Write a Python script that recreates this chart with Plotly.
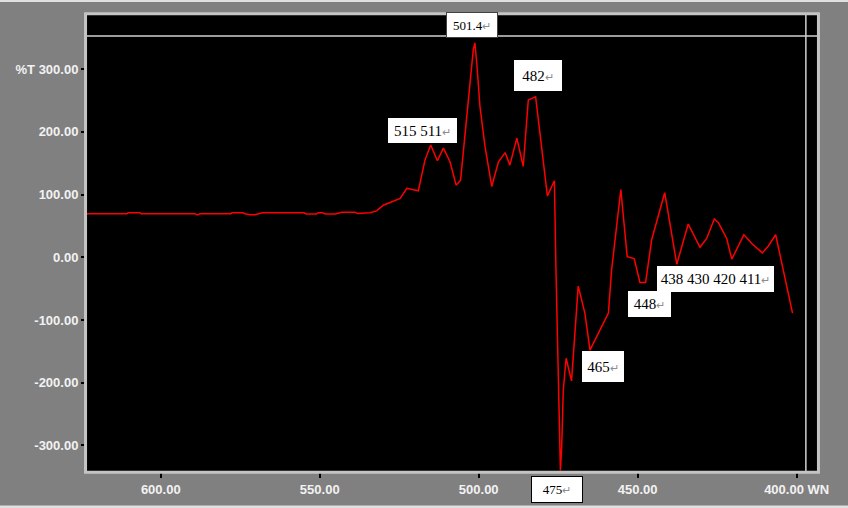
import plotly.graph_objects as go

# Wavenumber (cm-1) and %T values
wn = [623.2, 610.6, 610.3, 606.5, 606.2, 589.2, 588.6, 587.6, 577.9, 577.6, 574.1, 573.5,
      571.9, 570.3, 568.1, 554.9, 554.3, 551.1, 550.5, 549.0, 548.3, 545.2, 543.6, 543.0,
      538.9, 538.2, 534.2, 532.1, 530.0, 526.9, 524.7, 522.6, 519.0, 516.9, 515.1, 513.0,
      511.1, 509.0, 507.1, 505.7, 502.7, 501.7, 501.2, 500.6, 499.6, 498.0, 495.9, 493.8,
      491.7, 490.2, 488.0, 486.0, 484.4, 482.1, 478.4, 476.2, 475.7, 475.0, 474.3, 473.9,
      473.4, 472.5, 470.8, 468.7, 466.6, 465.0, 459.2, 458.2, 455.3, 453.3, 451.1, 449.3,
      447.5, 445.6, 441.5, 437.7, 434.1, 430.4, 428.3, 425.9, 424.6, 422.0, 420.4, 416.6,
      414.1, 410.8, 408.9, 406.6, 401.3]
trans = [69.5, 69.5, 71, 71, 69.5, 69.5, 67.5, 69.5, 69.5, 71, 71, 69.5,
         68, 68, 71, 71, 69, 69, 71, 71, 69, 69, 71, 72,
         72, 70, 71, 74, 83, 89, 94, 110, 106, 155, 179, 154,
         174, 152, 115, 123, 283, 331, 342, 309, 240, 176, 113, 152,
         167, 147, 190, 145, 251, 256, 98, 122, -20, -212, -340, -302,
         -212, -161, -197, -46, -89, -148, -89, -20, 108, 1, -2, -40,
         -40, 28, 103, -11, 53, 16, 30, 61, 55, 30, -3, 36,
         22, 7, 18, 36, -89]

x_tickvals = [600, 550, 500, 450, 400]
x_ticktext = ["600.00", "550.00", "500.00", "450.00", "400.00 WN"]
y_tickvals = [-300, -200, -100, 0, 100, 200, 300]
y_ticktext = ["-300.00", "-200.00", "-100.00", "0.00", "100.00", "200.00", "%T 300.00"]

peak_labels = ["501.4", "482", "515 511", "465", "448", "438 430 420 411", "475"]

fig = go.Figure()
fig.add_trace(go.Scatter(x=wn, y=trans, mode="lines",
                         line=dict(color="#ff0000", width=1.5), hoverinfo="skip"))

tickfont = dict(family="Liberation Sans, Arial, sans-serif", size=13, color="#f2f2f2", weight="bold")

fig.update_layout(
    width=848, height=508,
    margin=dict(l=87, r=31, t=15, b=37),
    paper_bgcolor="#808080",
    plot_bgcolor="#000000",
    showlegend=False,
    xaxis=dict(range=[623.2, 393.6], tickvals=x_tickvals, ticktext=x_ticktext,
               showgrid=False, zeroline=False, showline=False, automargin=False,
               ticks="outside", ticklen=6, tickcolor="#000000", tickwidth=1.5,
               tickfont=tickfont),
    yaxis=dict(range=[-340.8, 386.4], tickvals=y_tickvals, ticktext=y_ticktext,
               showgrid=False, zeroline=False, showline=False, automargin=False,
               ticks="outside", ticklen=5, tickcolor="#000000", tickwidth=1.5,
               tickfont=tickfont),
)

# cursor lines and plot frame
fig.add_shape(type="line", xref="paper", x0=0, x1=1, yref="y", y0=353, y1=353,
              line=dict(color="#d0d0d0", width=1.5))
fig.add_shape(type="line", xref="x", x0=397.1, x1=397.1, yref="paper", y0=0, y1=1,
              line=dict(color="#d0d0d0", width=1.5))
fig.add_shape(type="rect", xref="paper", yref="paper", x0=-0.002, x1=1.002, y0=-0.003, y1=1.003,
              line=dict(color="#c4c4c4", width=3))
# outer page border strips
fig.add_shape(type="line", xref="paper", yref="paper", x0=-0.2, x1=1.2, y0=1.032, y1=1.032,
              line=dict(color="#e0e0e0", width=3))
fig.add_shape(type="line", xref="paper", yref="paper", x0=-0.2, x1=1.2, y0=-0.079, y1=-0.079,
              line=dict(color="#e0e0e0", width=3))

arrow = "<span style='color:#8c8c8c;font-size:11px'>\u21b5</span>"
ann_specs = [
    # label, x, y, yref, width, height, font size, border
    (peak_labels[0], 502.26, 369.7, "y", 50, 24, 13, "#404040"),
    (peak_labels[1], 481.4, 290, "y", 46, 29, 15, None),
    (peak_labels[2], 517.7, 203, "y", 67, 23, 15, None),
    (peak_labels[3], 461.0, -173.8, "y", 40, 29, 15, None),
    (peak_labels[4], 446.3, -74, "y", 41, 24, 15, None),
    (peak_labels[5], 425.6, -34.1, "y", 115, 24, 15, None),
    (peak_labels[6], 475.3, -0.0412, "paper", 50, 25, 13, "#000000"),
]
for text, x, y, yref, w, h, fs, border in ann_specs:
    fig.add_annotation(
        x=x, y=y, xref="x", yref=yref, text=text + arrow, showarrow=False,
        xanchor="center", yanchor="middle", width=w, height=h, align="center",
        bgcolor="#ffffff", bordercolor=border if border else "#ffffff",
        borderwidth=1, borderpad=0,
        font=dict(family="Liberation Serif, Times New Roman, serif", size=fs, color="#000000"),
    )

fig.write_html("out.html", config={"displayModeBar": False},
               post_script="document.body.style.margin='0px';document.body.style.overflow='hidden';")
